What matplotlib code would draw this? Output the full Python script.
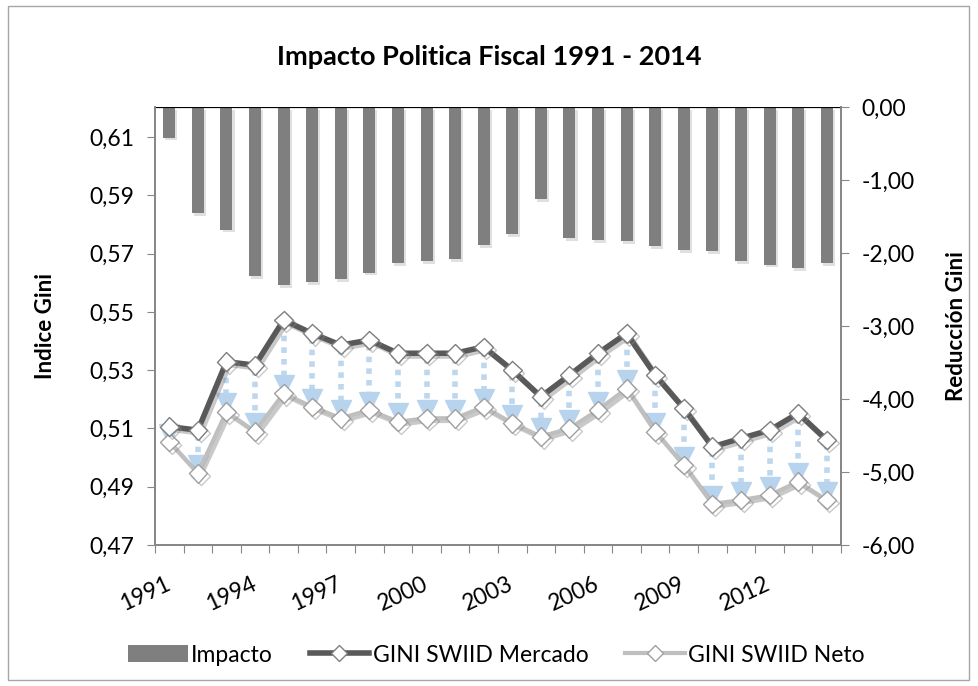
import matplotlib.pyplot as plt
import matplotlib.patheffects as pe
from matplotlib.patches import Patch
from matplotlib.lines import Line2D
from matplotlib.ticker import FuncFormatter
import matplotlib.transforms as mtransforms

plt.rcParams['font.family'] = ['Lato', 'DejaVu Sans']

# data
years = list(range(1991, 2015))
mercado = [0.5106, 0.5094, 0.5329, 0.5317, 0.5472, 0.5426, 0.5386, 0.5403,
           0.5358, 0.5358, 0.5358, 0.5380, 0.5300, 0.5209, 0.5283, 0.5358,
           0.5426, 0.5283, 0.5169, 0.5037, 0.5066, 0.5094, 0.5152, 0.5060]
neto = [0.5054, 0.4946, 0.5157, 0.5089, 0.5220, 0.5174, 0.5135, 0.5163,
        0.5123, 0.5135, 0.5135, 0.5174, 0.5118, 0.5072, 0.5100, 0.5163,
        0.5237, 0.5089, 0.4974, 0.4841, 0.4854, 0.4871, 0.4917, 0.4854]
impacto = [-0.42, -1.45, -1.68, -2.32, -2.44, -2.40, -2.36, -2.27,
           -2.14, -2.11, -2.08, -1.89, -1.74, -1.26, -1.80, -1.82,
           -1.84, -1.91, -1.96, -1.97, -2.11, -2.16, -2.21, -2.14]
label_years = [1991, 1994, 1997, 2000, 2003, 2006, 2009, 2012]
left_ticks = [0.47, 0.49, 0.51, 0.53, 0.55, 0.57, 0.59, 0.61]
right_ticks = [0, -1, -2, -3, -4, -5, -6]

x = list(range(len(years)))

fig = plt.figure(figsize=(9.79, 6.86), dpi=100, facecolor='white')
ax2 = fig.add_axes([155/979, 141/686, 686/979, 438/686])   # bars, right axis
ax = ax2.twinx()                                           # lines
ax.yaxis.tick_left()
ax.yaxis.set_label_position('left')
ax2.yaxis.tick_right()
ax2.yaxis.set_label_position('right')
ax.set_zorder(ax2.get_zorder() + 1)
ax.patch.set_visible(False)

# bars hanging from zero
shadow = [pe.SimplePatchShadow(offset=(1.5, -2), shadow_rgbFace='#999999', alpha=0.3), pe.Normal()]
ax2.bar(x, impacto, width=0.42, color='#7f7f7f', zorder=2, path_effects=shadow)
ax2.axhline(0, color='black', lw=1.6, zorder=3)
ax2.set_ylim(-6, 0)
ax2.set_yticks(right_ticks)
ax2.yaxis.set_major_formatter(FuncFormatter(lambda v, p: f'{v:.2f}'.replace('.', ',')))
ax2.set_ylabel('Reducción Gini', fontsize=16, fontweight='bold', rotation=90, labelpad=22)

# arrows from mercado to neto
head_off = mtransforms.ScaledTranslation(0, 6/72, fig.dpi_scale_trans)
for i in x:
    ax.plot([i, i], [mercado[i] - 0.0015, neto[i] + 0.004], color='#bdd7ee',
            lw=4, ls=(0, (1, 1.1)), solid_capstyle='butt', zorder=2)
ax.plot(x, neto, ls='none', marker='v', ms=14, color='#b8d3ee', zorder=2,
        transform=ax.transData + head_off)

lshadow = [pe.SimpleLineShadow(offset=(2, -2), shadow_color='#888888', alpha=0.45), pe.Normal()]
ax.plot(x, neto, color='#bfbfbf', lw=3, marker='D', ms=9.5, mfc='white',
        mec='#a0a0a0', mew=1, zorder=3, path_effects=lshadow)
ax.plot(x, mercado, color='#595959', lw=4, marker='D', ms=9.5, mfc='white',
        mec='#7f7f7f', mew=1, zorder=4, path_effects=lshadow)

ax.set_ylim(0.47, 0.6203)
ax.set_yticks(left_ticks)
ax.yaxis.set_major_formatter(FuncFormatter(lambda v, p: f'{v:.2f}'.replace('.', ',')))
ax.set_ylabel('Indice Gini', fontsize=16, fontweight='bold', labelpad=24)
ax.set_xlim(-0.5, len(years) - 0.5)

for a in (ax, ax2):
    for s in a.spines.values():
        s.set_color('#878787')
        s.set_linewidth(1.3)
    a.tick_params(axis='y', labelsize=16.5, length=6, color='#878787', pad=9, direction='out')

ax2.spines['top'].set_visible(False)
ax.spines['top'].set_visible(False)

# category boundaries ticks
ax2.set_xticks([i - 0.5 for i in range(len(years) + 1)])
ax2.set_xticklabels([])
ax2.tick_params(axis='x', length=6, color='#878787', direction='out')
ax.tick_params(axis='x', length=0, labelbottom=False)

xt = mtransforms.blended_transform_factory(ax2.transData, ax2.transAxes)
for yr in label_years:
    ax2.text(years.index(yr), -38/438, str(yr), transform=xt, rotation=25,
             ha='right', va='center', rotation_mode='anchor', fontsize=16.5)

fig.text(0.5, 1 - 57/686, 'Impacto Politica Fiscal 1991 - 2014', ha='center', va='center',
         fontsize=19.5, fontweight='bold')

handles = [Patch(facecolor='#7f7f7f', edgecolor='none'),
           Line2D([], [], color='#595959', lw=4, marker='D', ms=8, mfc='white', mec='#7f7f7f'),
           Line2D([], [], color='#bfbfbf', lw=3, marker='D', ms=8, mfc='white', mec='#a0a0a0')]
fig.legend(handles, ['Impacto', 'GINI SWIID Mercado', 'GINI SWIID Neto'], loc='center',
           bbox_to_anchor=(0.507, 1 - 655/686), ncol=3, frameon=False, fontsize=16.5,
           handlelength=2.6, handletextpad=0.15, columnspacing=1.6)

# outer chart frame
fig.patches.append(plt.Rectangle((8/979, 6/686), 961/979, 674/686, transform=fig.transFigure,
                                 fill=False, edgecolor='#a6a6a6', lw=1))

fig.savefig('out.png', dpi=100)
